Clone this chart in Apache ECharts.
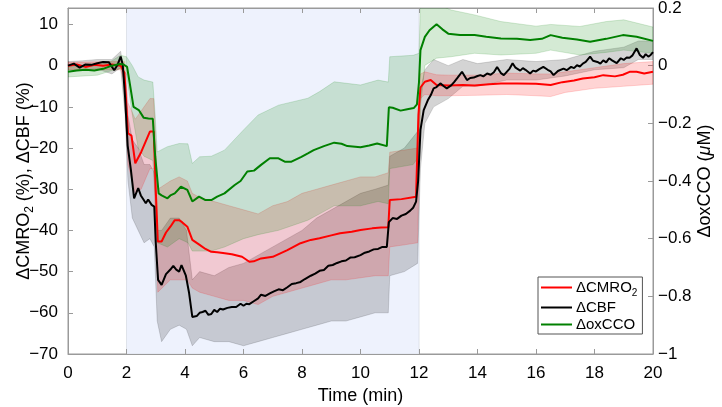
<!DOCTYPE html>
<html>
<head>
<meta charset="utf-8">
<script src="https://cdn.jsdelivr.net/npm/echarts@6/dist/echarts.min.js"></script>
<style>html,body{margin:0;padding:0;background:#fff}#c{width:722px;height:407px}</style>
</head>
<body>
<div id="c"></div>
<script>
// ---- data ----
const xTicks = [0, 2, 4, 6, 8, 10, 12, 14, 16, 18, 20];
const stimWindow = [2, 12];

// ΔCBF (%) mean line
const tCBF = [0,0.2,0.4,0.6,0.8,1.0,1.2,1.4,1.58,1.7,
1.8,1.87,1.95,2.04,2.15,2.26,2.4,2.49,2.58,2.66,
2.74,2.86,2.95,3.0,3.08,3.2,3.35,3.5,3.6,3.7,
3.8,3.88,4.03,4.14,4.25,4.4,4.5,4.6,4.7,4.8,
4.9,5.0,5.1,5.2,5.3,5.45,5.6,5.75,5.9,6.0,
6.1,6.2,6.35,6.5,6.6,6.75,6.9,7.04,7.2,7.35,
7.5,7.65,7.8,7.95,8.1,8.3,8.45,8.6,8.75,8.9,
9.05,9.2,9.35,9.5,9.65,9.8,10.0,10.15,10.3,10.45,
10.6,10.75,10.9,10.97,11.1,11.25,11.4,11.55,11.7,11.8,
11.9,11.97,12.05,12.16,12.3,12.4,12.5,12.6,12.73,12.85,
12.95,13.1,13.2,13.3,13.47,13.64,13.75,13.87,14.0,14.1,
14.2,14.33,14.45,14.56,14.67,14.8,14.9,15.0,15.1,15.2,
15.3,15.46,15.55,15.64,15.8,15.9,16.0,16.1,16.25,16.4,
16.5,16.6,16.75,16.94,17.05,17.2,17.3,17.4,17.5,17.6,
17.7,17.85,17.95,18.1,18.2,18.3,18.4,18.5,18.6,18.76,
18.9,19.0,19.1,19.2,19.3,19.44,19.55,19.66,19.75,19.84,
19.92,20.0];
const cbf = [0,0.5,-0.5,0.3,0.2,0.6,0.9,0.8,-1.1,0.3,
2.2,0.3,-7.5,-19.4,-25.3,-32.2,-29.7,-31.5,-32.5,-33.4,
-32.5,-33.8,-34.2,-43,-52,-53.2,-50.6,-49.5,-48.6,-49.5,
-50,-48.4,-51,-55.2,-61,-60.8,-60,-59.8,-59.5,-60.5,
-60.3,-59.3,-59.8,-59,-59.2,-58.8,-58.6,-58.6,-57.8,-58.3,
-57.8,-57.9,-57.2,-56.5,-55.6,-55.9,-55.3,-54.8,-54.3,-54.5,
-53.8,-53,-52.8,-52.5,-51.8,-51,-50.5,-49.8,-49.6,-48.6,
-48.4,-47.9,-47.5,-47.3,-46.6,-46.5,-46,-45.4,-45.1,-44.6,
-44.5,-44,-44,-38,-37,-37.2,-36.4,-36,-35.2,-34.5,
-33,-28,-15.6,-10.8,-8.4,-7.2,-5.5,-5.2,-4.3,-5.0,
-5.5,-4.8,-4.0,-3.1,-1.5,-3.5,-3.0,-2.9,-2.5,-2.3,
-2.6,-1.9,-2.2,-1.6,-0.3,-1.8,-2.3,-1.5,-0.7,0.6,
-0.5,-1.2,-0.6,-1.0,-1.9,-1.2,-1.4,-0.9,-0.3,-1.0,
-1.4,-2.3,-1.3,-0.7,-1.1,-0.3,-0.6,0.1,-0.2,0.5,
0.9,2.2,1.2,0.9,0.5,1.3,0.8,1.8,1.3,0.6,
1.8,1.4,2.0,1.9,2.5,4.2,2.6,1.9,2.8,2.2,
2.6,3.3];
// ΔCBF band
const tCBFband = [0,0.5,1.0,1.5,1.8,1.95,2.05,2.2,2.4,2.6,2.8,2.95,3.05,3.2,3.5,3.8,4.05,4.25,4.5,5.0,5.5,6.0,6.5,7.0,7.5,8.0,8.5,9.0,9.5,10.0,10.5,10.95,11.0,11.5,11.95,12.05,12.2,12.5,13.0,13.5,14,15,16,17,18,19,19.5,20];
const cbfLo = [-1,-1,-0.8,-2,-0.5,-12,-28,-37,-40,-43,-42,-44,-62,-67,-64,-63,-64,-68,-66,-67,-67,-68,-67,-66,-65,-64,-63,-62,-62,-61,-60,-60,-51,-50,-48,-25,-14,-10,-8,-5,-5,-3.5,-3.5,-2.5,-1,-0.5,1.5,1.5];
const cbfHi = [1,1.2,1.5,1.5,3.5,-3,-12,-18,-20,-24,-24,-26,-40,-40,-37,-37,-40,-52,-50,-51,-49,-48,-46,-44,-42,-40,-37,-35,-33,-31,-30,-29,-22,-20,-16,-6,-1,1.5,0,1.5,0.5,1.5,1,1.5,3.5,4.5,6,6];

// ΔCMRO2 (%) mean line
const tCMRO = [0,0.3,0.6,0.9,1.2,1.5,1.8,1.93,2.05,2.17,
2.3,2.5,2.65,2.8,2.93,3.0,3.07,3.2,3.35,3.5,
3.65,3.8,3.9,4.08,4.25,4.5,4.7,4.9,5.1,5.3,
5.6,5.95,6.2,6.35,6.6,7.0,7.5,7.95,8.3,8.6,
9.0,9.3,9.7,10.0,10.4,10.7,10.95,11.0,11.4,11.9,
11.98,12.05,12.2,12.4,12.6,13.0,13.5,13.9,14.4,14.8,
15.35,16.0,16.5,16.9,17.3,17.6,18.0,18.3,18.7,18.97,
19.2,19.44,19.7,20.0];
const cmro = [0,0.3,-0.3,0.2,0,0.3,0,-1.8,-16.4,-17,
-23.7,-21,-18.5,-16,-16,-30,-42.7,-42.7,-40.5,-39.1,
-37.5,-37.5,-38,-39.1,-42.3,-43.5,-44.5,-45.2,-45.3,-45.5,
-45.8,-46.4,-47.6,-47.5,-46.8,-46.4,-44.8,-43.1,-42.3,-41.9,
-41.2,-40.7,-40.3,-39.9,-39.5,-39.3,-39.2,-32.6,-32.4,-31.8,
-12,-5.3,-3.9,-3.5,-4.7,-4.8,-4.7,-4.8,-4.5,-4.3,
-4.3,-4.4,-4.7,-4.0,-3.6,-3.1,-2.8,-2.3,-2.6,-2.2,
-1.5,-1.5,-1.9,-1.5];
// ΔCMRO2 band
const tCMROband = [0,1.8,1.93,2.05,2.3,2.5,2.8,2.93,3.07,3.5,3.8,4.08,4.25,4.5,5.0,5.5,6.0,6.5,7.0,7.5,8.0,8.5,9.0,9.5,10.0,10.5,10.95,11.0,11.5,11.95,12.05,12.2,12.6,13.0,14,15,16,16.5,17,18,19,20];
const cmroLo = [-1,-1,-4,-24,-31,-30,-25,-25,-55,-52,-52,-52,-54,-55,-56,-57,-57,-58,-56,-55,-54,-53,-52,-52,-51.5,-51,-51,-44,-43.5,-43,-8,-7,-7.3,-7.3,-7.2,-7,-7.3,-7.5,-6.5,-5.5,-5,-4.5];
const cmroHi = [0.8,1,1,-9,-13,-11,-8,-8,-30,-28,-27,-28,-31,-32,-33,-34,-35,-36,-34,-33,-31,-30,-29,-28,-27,-27,-26,-21,-20.5,-20,-2,-1.5,-2.2,-2.3,-2.3,-1.8,-2,-2,-1.5,-0.5,0.5,1];

// ΔoxCCO (µM) mean line
const tOx = [0,0.3,0.6,0.9,1.2,1.5,1.77,1.9,2.02,2.13,
2.24,2.42,2.59,2.75,2.9,2.98,3.1,3.2,3.4,3.5,
3.65,3.86,4.08,4.25,4.48,4.7,4.9,5.1,5.35,5.7,
5.9,6.13,6.36,6.6,6.9,7.18,7.41,7.64,7.98,8.2,
8.4,8.75,9.1,9.35,9.55,10.0,10.3,10.57,10.9,10.97,
11.1,11.37,11.6,11.82,11.93,12.0,12.05,12.2,12.36,12.6,
12.8,13.0,13.4,13.9,14.3,14.8,15.35,15.8,16.2,16.5,
16.9,17.4,17.85,18.4,18.97,19.44,20.0];
const ox = [-0.021,-0.017,-0.014,-0.017,-0.011,0,0.006,0.004,-0.004,-0.073,
-0.143,-0.154,-0.181,-0.183,-0.184,-0.314,-0.443,-0.45,-0.46,-0.45,
-0.443,-0.42,-0.431,-0.471,-0.454,-0.466,-0.466,-0.454,-0.443,-0.414,
-0.4,-0.367,-0.364,-0.344,-0.321,-0.321,-0.333,-0.333,-0.316,-0.304,
-0.293,-0.279,-0.267,-0.271,-0.279,-0.283,-0.277,-0.27,-0.279,-0.144,
-0.146,-0.156,-0.151,-0.147,-0.134,-0.057,0.054,0.1,0.123,0.144,
0.126,0.111,0.106,0.106,0.1,0.094,0.093,0.089,0.093,0.106,
0.097,0.091,0.083,0.093,0.106,0.1,0.086];
// ΔoxCCO band
const tOxBand = [0,1.0,1.5,1.8,2.0,2.2,2.4,2.6,2.9,2.98,3.05,3.4,3.8,4.1,4.25,4.5,4.9,5.35,6.0,6.5,7.2,8.2,8.6,9.1,10.0,10.6,10.95,11.0,11.8,12.0,12.05,12.2,12.6,13.1,13.9,14.8,16.0,16.5,17.5,18.4,19.0,20.0];
const oxLo = [-0.039,-0.033,-0.017,-0.011,-0.029,-0.171,-0.286,-0.314,-0.329,-0.443,-0.614,-0.629,-0.6,-0.614,-0.643,-0.643,-0.643,-0.629,-0.6,-0.586,-0.571,-0.536,-0.514,-0.486,-0.486,-0.471,-0.479,-0.357,-0.343,-0.314,-0.143,0.001,0.026,0.031,0.043,0.037,0.043,0.054,0.037,0.046,0.054,0.043];
const oxHi = [-0.004,0,0.017,0.036,0.031,0,-0.039,-0.05,-0.057,-0.171,-0.299,-0.281,-0.27,-0.271,-0.339,-0.316,-0.314,-0.293,-0.223,-0.171,-0.137,-0.113,-0.09,-0.056,-0.067,-0.05,-0.057,0.031,0.036,0.043,0.207,0.214,0.214,0.193,0.176,0.153,0.137,0.143,0.136,0.153,0.159,0.134];

// ---- chart ----
const FONT = '"Liberation Sans", Arial, Helvetica, sans-serif';
const AXIS_GRAY = '#9a9a9a';
const LEFT_MIN = -70, LEFT_MAX = 14, RIGHT_MIN = -1, RIGHT_MAX = 0.2;
const minus = s => String(s).replace('-', '\u2212');

function band(name, t, lo, hi, fill, stroke, yAxisIndex) {
  const data = t.map((x, i) => [x, lo[i], hi[i]]);
  return {
    type: 'custom', name: name, yAxisIndex: yAxisIndex, data: data, clip: true, silent: true, z: 2,
    encode: { x: 0, y: [1, 2] },
    renderItem: function (params, api) {
      if (params.dataIndex !== 0) return null;
      const pts = [];
      for (let i = 0; i < data.length; i++) pts.push(api.coord([data[i][0], data[i][2]]));
      for (let i = data.length - 1; i >= 0; i--) pts.push(api.coord([data[i][0], data[i][1]]));
      return { type: 'polygon', shape: { points: pts }, style: { fill: fill, stroke: stroke, lineWidth: 0.8 } };
    }
  };
}
function line(name, t, v, color, yAxisIndex, z) {
  return {
    type: 'line', name: name, yAxisIndex: yAxisIndex, data: t.map((x, i) => [x, v[i]]),
    showSymbol: false, symbol: 'none', clip: true, z: z, color: color,
    lineStyle: { color: color, width: 2 }, itemStyle: { color: color }, emphasis: { disabled: true }
  };
}

const chart = echarts.init(document.getElementById('c'), null, { renderer: 'canvas' });
chart.setOption({
  animation: false,
  textStyle: { fontFamily: FONT },
  grid: { left: 68, right: 69, top: 8, bottom: 53, containLabel: false, outerBoundsMode: 'none',
    show: true, borderColor: AXIS_GRAY, borderWidth: 1, backgroundColor: 'transparent' },
  legend: {
    data: ['ΔCMRO2', 'ΔCBF', 'ΔoxCCO'],
    orient: 'vertical', left: 538, top: 277,
    icon: 'rect', itemWidth: 31, itemHeight: 2, itemGap: 2, padding: [3, 5, 2, 3],
    backgroundColor: '#fff', borderColor: '#555', borderWidth: 1,
    itemStyle: { borderWidth: 0 },
    formatter: n => n === 'ΔCMRO2' ? '{a|ΔCMRO}{s|2}' : '{a|' + n + '}',
    textStyle: {
      fontFamily: FONT, color: '#000', padding: [0, 0, 0, -1],
      rich: {
        a: { fontFamily: FONT, fontSize: 15, lineHeight: 21, color: '#000', verticalAlign: 'middle' },
        s: { fontFamily: FONT, fontSize: 10, lineHeight: 21, color: '#000', verticalAlign: 'bottom' }
      }
    }
  },
  xAxis: [
    {
      type: 'value', min: 0, max: 20, interval: 2, position: 'bottom',
      name: 'Time (min)', nameLocation: 'middle', nameGap: 33, nameMoveOverlap: false,
      nameTextStyle: { fontFamily: FONT, fontSize: 18, color: '#000' },
      axisLine: { show: true, onZero: false, lineStyle: { color: AXIS_GRAY } },
      axisTick: { show: true, inside: true, length: 5, lineStyle: { color: AXIS_GRAY } },
      axisLabel: { fontFamily: FONT, fontSize: 17, color: '#000', margin: 11, formatter: v => xTicks.includes(v) ? String(v) : '' },
      splitLine: { show: false }
    },
    {
      type: 'value', min: 0, max: 20, interval: 2, position: 'top',
      axisLine: { show: true, onZero: false, lineStyle: { color: AXIS_GRAY } },
      axisTick: { show: true, inside: true, length: 5, lineStyle: { color: AXIS_GRAY } },
      axisLabel: { show: false }, splitLine: { show: false }
    }
  ],
  yAxis: [
    {
      type: 'value', min: LEFT_MIN, max: LEFT_MAX, interval: 10, position: 'left',
      name: '{a|ΔCMRO}{s|2}{a| (%), ΔCBF (%)}', nameLocation: 'middle', nameGap: 32, nameRotate: 90,
      nameMoveOverlap: false,
      nameTextStyle: {
        rich: {
          a: { fontFamily: FONT, fontSize: 18, color: '#000', lineHeight: 24, verticalAlign: 'middle' },
          s: { fontFamily: FONT, fontSize: 12, color: '#000', lineHeight: 24, verticalAlign: 'bottom' }
        }
      },
      axisLine: { show: true, onZero: false, lineStyle: { color: AXIS_GRAY } },
      axisTick: { show: true, inside: true, length: 5, lineStyle: { color: AXIS_GRAY } },
      axisLabel: { fontFamily: FONT, fontSize: 17, color: '#000', margin: 10, showMaxLabel: false,
        formatter: v => v > 10.5 ? '' : minus(v) },
      splitLine: { show: false }
    },
    {
      type: 'value', min: RIGHT_MIN, max: RIGHT_MAX, interval: 0.2, position: 'right',
      name: '{a|ΔoxCCO (}{m|μ}{a|M)}', nameLocation: 'middle', nameGap: 43, nameRotate: 90,
      nameMoveOverlap: false,
      nameTextStyle: {
        rich: {
          a: { fontFamily: FONT, fontSize: 18, color: '#000' },
          m: { fontFamily: FONT, fontSize: 18, color: '#000', fontStyle: 'italic' }
        }
      },
      axisLine: { show: true, onZero: false, lineStyle: { color: AXIS_GRAY } },
      axisTick: { show: true, inside: true, length: 5, lineStyle: { color: AXIS_GRAY } },
      axisLabel: { fontFamily: FONT, fontSize: 17, color: '#000', margin: 5, showMaxLabel: true, showMinLabel: true,
        formatter: v => minus(Math.round(v * 10) / 10) },
      splitLine: { show: false }
    }
  ],
  series: [
    {
      type: 'custom', name: 'stim', yAxisIndex: 0, data: [stimWindow], clip: true, silent: true, z: 0,
      encode: { x: [0, 1] },
      renderItem: function (params, api) {
        const p0 = api.coord([api.value(0), LEFT_MAX]);
        const p1 = api.coord([api.value(1), LEFT_MIN]);
        return { type: 'rect', shape: { x: p0[0], y: p0[1], width: p1[0] - p0[0], height: p1[1] - p0[1] },
          style: { fill: '#eef2fd', stroke: '#dfe3ea', lineWidth: 1 } };
      }
    },
    band('CBF band', tCBFband, cbfLo, cbfHi, 'rgba(0,0,0,0.17)', 'rgba(0,0,0,0.18)', 0),
    band('CMRO2 band', tCMROband, cmroLo, cmroHi, 'rgba(255,0,0,0.17)', 'rgba(255,0,0,0.2)', 0),
    band('oxCCO band', tOxBand, oxLo, oxHi, 'rgba(0,128,0,0.17)', 'rgba(0,128,0,0.2)', 1),
    line('ΔCMRO2', tCMRO, cmro, '#ff0000', 0, 5),
    line('ΔCBF', tCBF, cbf, '#000000', 0, 6),
    line('ΔoxCCO', tOx, ox, '#008000', 1, 7)
  ]
});
</script>
</body>
</html>
